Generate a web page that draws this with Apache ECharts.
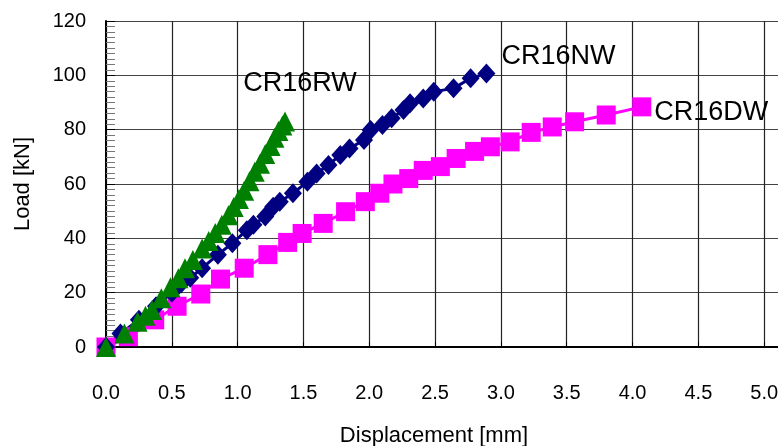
<!DOCTYPE html>
<html>
<head>
<meta charset="utf-8">
<title>Load - displacement</title>
<script src="https://cdn.jsdelivr.net/npm/echarts@6/dist/echarts.min.js"></script>
<style>
	html, body { margin: 0; padding: 0; background: #fff; }
	#chart { width: 778px; height: 446px; }
</style>
</head>
<body>
<div id="chart"></div>
<script>
// CR16DW (magenta squares)
const dispDW = [0, 0.17, 0.37, 0.54, 0.72, 0.87, 1.05, 1.23, 1.38, 1.49, 1.65, 1.82, 1.97, 2.08, 2.18, 2.30, 2.41, 2.54, 2.66, 2.80, 2.92, 3.07, 3.23, 3.39, 3.56, 3.80, 4.07];
const loadDW = [0, 3.8, 10, 15, 19.5, 25, 29, 34, 38.5, 41.8, 45.5, 49.8, 53.5, 56.6, 60, 62, 65, 66.4, 69.4, 72, 73.7, 75.5, 79, 81, 82.9, 85.4, 88.4];
// CR16NW (navy diamonds)
const dispNW = [0, 0.11, 0.25, 0.38, 0.5, 0.57, 0.64, 0.73, 0.85, 0.96, 1.07, 1.12, 1.21, 1.27, 1.32, 1.42, 1.53, 1.60, 1.69, 1.78, 1.85, 1.96, 2.01, 2.10, 2.17, 2.26, 2.31, 2.41, 2.49, 2.64, 2.77, 2.89];
const loadNW = [0, 5, 10, 15, 20, 23.4, 25.5, 29, 34, 38.2, 43, 45, 48, 51.6, 53.5, 56.6, 60.8, 63.9, 67, 70.7, 73.1, 76.2, 79.9, 81.7, 84.2, 87.2, 89.7, 91.5, 94, 95.2, 98.9, 100.7];
// CR16RW (green triangles)
const dispRW = [0, 0.14, 0.24, 0.30, 0.35, 0.42, 0.49, 0.55, 0.60, 0.66, 0.73, 0.78, 0.83, 0.88, 0.93, 0.97, 1.01, 1.05, 1.09, 1.13, 1.17, 1.21, 1.25, 1.28, 1.31, 1.34, 1.36];
const loadRW = [0, 5, 9.3, 11.5, 13.6, 17.9, 22, 25.3, 29, 32, 36.3, 39, 42, 45, 48.5, 51.5, 54.5, 57.5, 61, 64.5, 67.5, 71, 74, 77, 79.5, 81.5, 83];

const FONT = "'Liberation Sans', Arial, sans-serif";

// pair x/y arrays, put the series name next to the last point
const buildData = (xs, ys, label) =>
	xs.map((x, i) => {
		if (i < xs.length - 1) return [x, ys[i]];
		return { value: [x, ys[i]], label: Object.assign({ show: true, color: '#000', fontSize: 27, fontFamily: FONT }, label) };
	});

const lineSeries = (name, color, symbol, size, data) => ({
	name: name,
	type: 'line',
	data: data,
	symbol: symbol,
	symbolSize: size,
	clip: false,
	itemStyle: { color: color },
	lineStyle: { color: color, width: 3 },
	label: { show: false },
});

const chart = echarts.init(document.getElementById('chart'));
chart.setOption({
	animation: false,
	backgroundColor: '#fff',
	textStyle: { fontFamily: FONT },
	// plot runs past the right edge (axis goes to 5.5, cropped like the original)
	grid: { left: 106, top: 21, right: -52, bottom: 99, outerBoundsMode: 'none' },
	xAxis: {
		type: 'value',
		min: 0,
		max: 5.5,
		interval: 0.5,
		name: 'Displacement [mm]',
		nameLocation: 'middle',
		nameGap: 78,
		nameTextStyle: { fontSize: 22, color: '#000', padding: [0, 68, 0, 0] },
		axisLine: { lineStyle: { color: '#000', width: 2 } },
		axisTick: { inside: true, length: 5, lineStyle: { color: '#000' } },
		axisLabel: { fontSize: 20, color: '#000', margin: 36, formatter: (v) => v.toFixed(1) },
		splitLine: { show: true, lineStyle: { color: '#222', width: 1.2 } },
	},
	yAxis: {
		type: 'value',
		min: 0,
		max: 120,
		interval: 20,
		name: 'Load [kN]',
		nameLocation: 'middle',
		nameGap: 72,
		nameTextStyle: { fontSize: 22, color: '#000' },
		axisLine: { show: true, lineStyle: { color: '#000', width: 2 } },
		axisTick: { show: true, inside: true, length: 9, lineStyle: { color: '#000' } },
		minorTick: { show: true, splitNumber: 10, length: 9, lineStyle: { color: '#777' } },
		axisLabel: { fontSize: 20, color: '#000', margin: 20 },
		splitLine: { show: true, lineStyle: { color: '#444', width: 1.2 } },
	},
	series: [
		lineSeries('CR16DW', '#FF00FF', 'rect', 19,
			buildData(dispDW, loadDW, { formatter: 'CR16DW', position: 'right', distance: 3, offset: [0, 6] })),
		lineSeries('CR16NW', '#000080', 'diamond', [18, 20],
			buildData(dispNW, loadNW, { formatter: 'CR16NW', position: 'right', distance: 5, offset: [1, -17] })),
		lineSeries('CR16RW', '#008000', 'triangle', [20, 20],
			buildData(dispRW, loadRW, { formatter: 'CR16RW', position: 'top', distance: 5, offset: [15, -9] })),
	],
});
</script>
</body>
</html>
